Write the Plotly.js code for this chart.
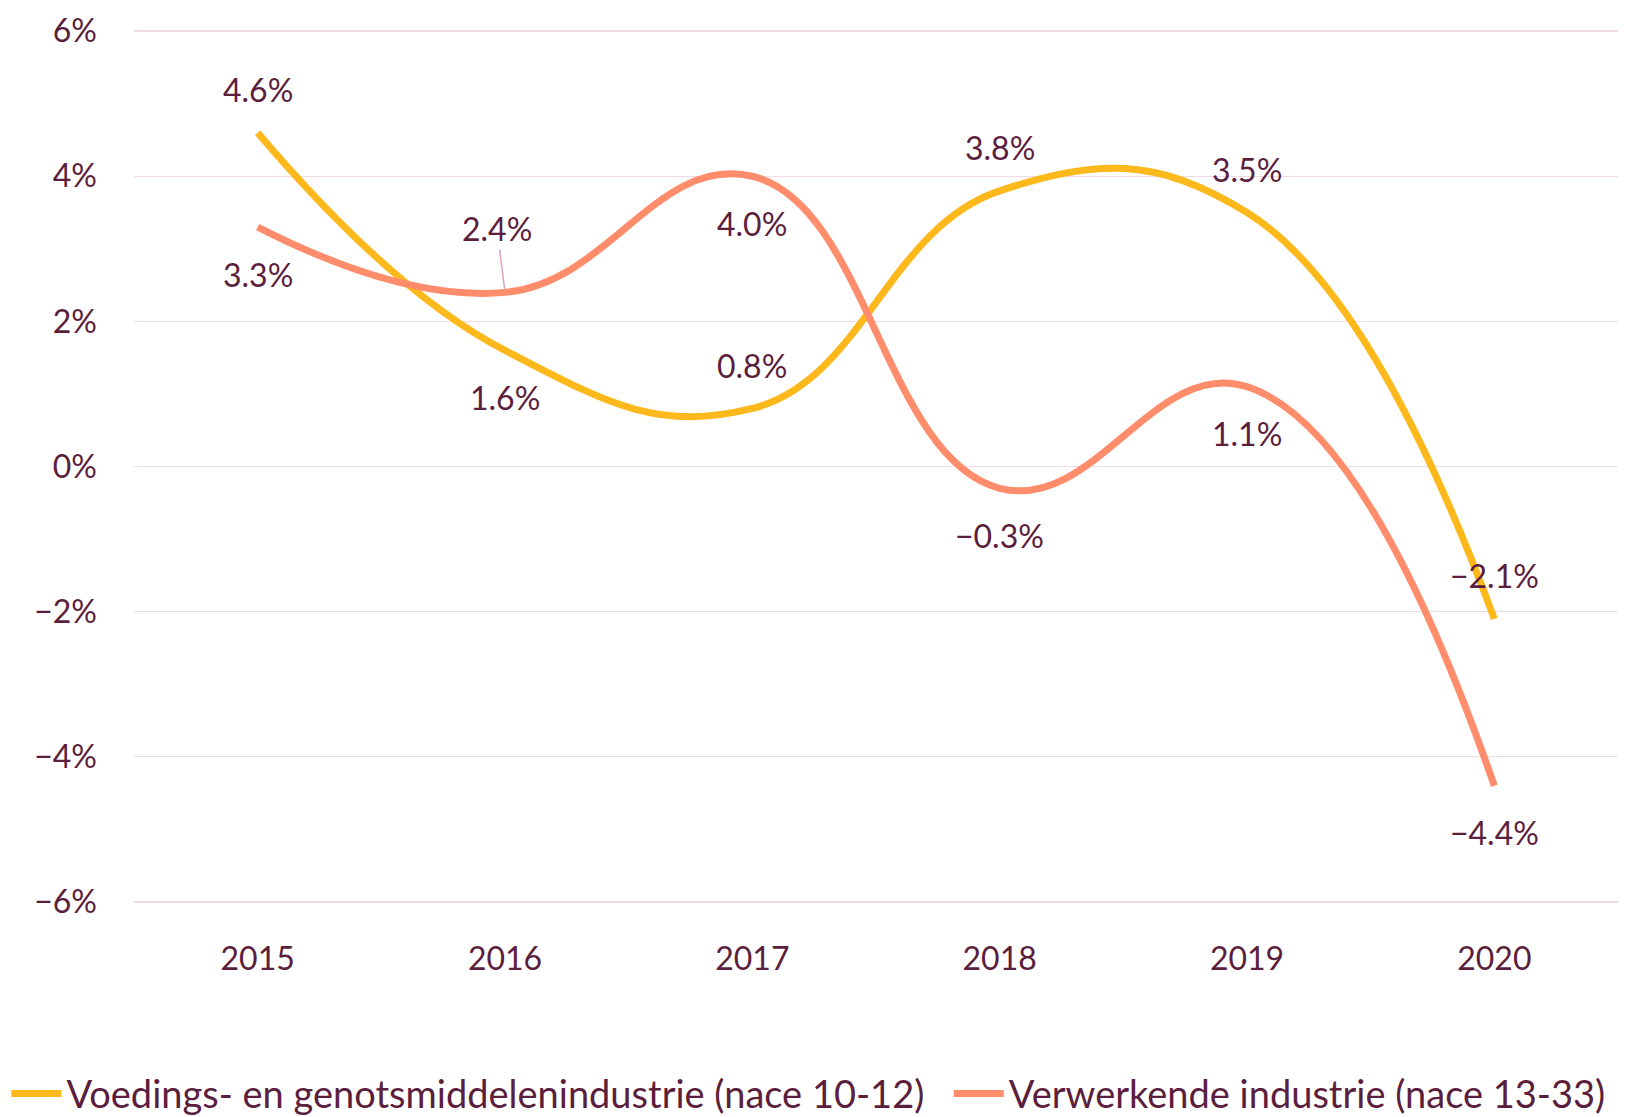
<!DOCTYPE html>
<html>
<head>
<meta charset="utf-8">
<script src="https://cdn.plot.ly/plotly-3.0.1.min.js"></script>
<style>html,body{margin:0;padding:0;background:#fff;}#chart{width:1644px;height:1117px;}</style>
</head>
<body>
<div id="chart"></div>
<script>
const years = ['2015', '2016', '2017', '2018', '2019', '2020'];
const foodValues = [4.6, 1.6, 0.8, 3.8, 3.5, -2.1];
const manufValues = [3.3, 2.4, 4.0, -0.3, 1.1, -4.4];
const foodName = 'Voedings- en genotsmiddelenindustrie (nace 10-12)';
const manufName = 'Verwerkende industrie (nace 13-33)';
const yTickVals = [-6, -4, -2, 0, 2, 4, 6];
const yTickText = ['\u22126%', '\u22124%', '\u22122%', '0%', '2%', '4%', '6%'];

// label placement (style): 1 = above, -1 = below
const foodPlace = [1, -1, 1, 1, 1, 1];
const manufPlace = [-1, 1, -1, -1, -1, -1];

const textColor = '#5B1E3D';
const fontFam = 'Lato, sans-serif';
const fmt = v => (v < 0 ? '\u2212' : '') + Math.abs(v).toFixed(1) + '%';

const traces = [
  {x: years, y: foodValues, name: foodName + '\u00a0\u00a0', type: 'scatter', mode: 'lines',
   line: {color: '#FDB81C', width: 7, shape: 'spline', smoothing: 1.25}},
  {x: years, y: manufValues, name: manufName, type: 'scatter', mode: 'lines',
   line: {color: '#FF8C6B', width: 7, shape: 'spline', smoothing: 1.25}}
];

const annotations = [];
function addLabels(vals, place) {
  vals.forEach((v, i) => {
    annotations.push({xref: 'x', yref: 'y', x: i, y: v, text: fmt(v), showarrow: false,
      yshift: place[i] > 0 ? 43 : -47, font: {size: 32, color: textColor, family: fontFam}});
  });
}
addLabels(foodValues, foodPlace);
addLabels(manufValues, manufPlace);
// leader line for the 2016 manufacturing label
const lead = annotations[7];
lead.showarrow = true; lead.arrowhead = 0; lead.arrowwidth = 1.5; lead.arrowcolor = '#D9A3C4';
lead.ax = -8; lead.ay = -64; lead.yshift = 0; lead.standoff = 3;

const layout = {
  width: 1644, height: 1117,
  margin: {l: 134, r: 26, t: 29, b: 213, autoexpand: false},
  paper_bgcolor: '#fff', plot_bgcolor: '#fff',
  font: {family: fontFam, color: textColor, size: 32},
  showlegend: true,
  legend: {orientation: 'h', x: -0.086, xanchor: 'left', y: -0.217, yanchor: 'middle',
           font: {size: 38, color: textColor, family: fontFam}, itemwidth: 50},
  xaxis: {type: 'category', range: [-0.5, 5.5], showgrid: false, zeroline: false, showline: false,
          ticks: '', tickfont: {size: 32, color: textColor}, ticklabelstandoff: 33, fixedrange: true},
  yaxis: {range: [-6.03, 6.03], tickvals: yTickVals, ticktext: yTickText, showgrid: true,
          gridcolor: '#F1D9E5', gridwidth: 1.5, zeroline: false, showline: false, ticks: '',
          tickfont: {size: 32, color: textColor}, ticklabelstandoff: 36, fixedrange: true},
  annotations: annotations
};

Plotly.newPlot('chart', traces, layout, {displayModeBar: false, staticPlot: true});
</script>
</body>
</html>
